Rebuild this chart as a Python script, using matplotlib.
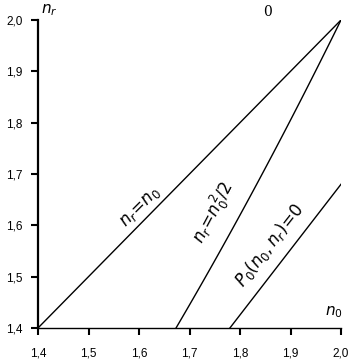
import numpy as np
import matplotlib
matplotlib.use("Agg")
import matplotlib.pyplot as plt

# data
n0_line1 = [1.4, 2.0]
nr_line1 = [1.4, 2.0]
n0_line2 = np.linspace(np.sqrt(2 * 1.4), 2.0, 50)
nr_line2 = n0_line2 ** 2 / 2
n0_line3 = [1.78, 2.0]
nr_line3 = [1.4, 1.68]
xticks = [1.4, 1.5, 1.6, 1.7, 1.8, 1.9, 2.0]
yticks = [1.4, 1.5, 1.6, 1.7, 1.8, 1.9, 2.0]

plt.rcParams['font.family'] = ['Liberation Sans', 'DejaVu Sans']
fig = plt.figure(figsize=(3.52, 3.61), dpi=100)
ax = fig.add_axes([38/352, 1-328/361, (341-38)/352, (328-20)/361])

ax.plot(n0_line1, nr_line1, color='black', lw=1.0)
ax.plot(n0_line2, nr_line2, color='black', lw=1.0)
ax.plot(n0_line3, nr_line3, color='black', lw=1.0)

ax.set_xlim(1.4, 2.0)
ax.set_ylim(1.4, 2.0)
ax.set_xticks(xticks)
ax.set_yticks(yticks)
ax.set_xticklabels([f"{v:.1f}".replace('.', ',') for v in xticks], fontsize=8.5)
ax.set_yticklabels([f"{v:.1f}".replace('.', ',') for v in yticks], fontsize=8.5)
ax.spines['top'].set_visible(False)
ax.spines['right'].set_visible(False)
ax.spines['left'].set_linewidth(1.6)
ax.spines['bottom'].set_linewidth(1.0)
ax.tick_params(axis='x', direction='out', length=5, width=1.5, pad=9)
ax.tick_params(axis='y', direction='out', length=5, width=1.5, pad=6)

ax.text(1.603, 1.635, r'$n_r\!=\!n_0$', rotation=45, ha='center', va='center', fontsize=12)
ax.text(1.748, 1.625, r'$n_r\!=\!n_0^2/2$', rotation=62, ha='center', va='center', fontsize=12)
ax.text(1.858, 1.562, r'$P_0(n_0,n_r)\!=\!0$', rotation=52, ha='center', va='center', fontsize=12)
ax.text(1.855, 2.016, '0', ha='center', va='center', fontsize=10, family='DejaVu Serif', clip_on=False)
ax.text(1.405, 2.02, r'$n_r$', ha='left', va='center', fontsize=11, clip_on=False)
ax.text(1.985, 1.43, r'$n_0$', ha='center', va='center', fontsize=11)

fig.savefig('out.png', dpi=100)
